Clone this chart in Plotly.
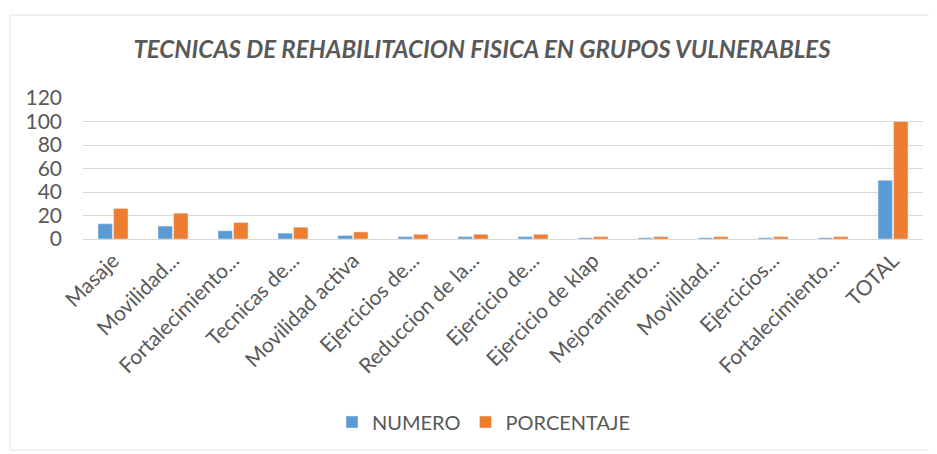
import plotly.graph_objects as go

categories = ["Masaje", "Movilidad...", "Fortalecimiento...", "Tecnicas de...", "Movilidad activa",
              "Ejercicios de...", "Reduccion de la...", "Ejercicio de...", "Ejercicio de klap",
              "Mejoramiento...", "Movilidad...", "Ejercicios...", "Fortalecimiento...", "TOTAL"]
numero = [13, 11, 7, 5, 3, 2, 2, 2, 1, 1, 1, 1, 1, 50]
porcentaje = [26, 22, 14, 10, 6, 4, 4, 4, 2, 2, 2, 2, 2, 100]
y_ticks = [0, 20, 40, 60, 80, 100, 120]

x_idx = list(range(len(categories)))
font = "Lato, Open Sans, sans-serif"
gray = "#595959"

W, H = 929, 446  # page body has an 8px margin

fig = go.Figure()
fig.add_trace(go.Bar(x=x_idx, y=numero, name="NUMERO", marker_color="#5B9BD5"))
fig.add_trace(go.Bar(x=x_idx, y=porcentaje, name="PORCENTAJE", marker_color="#ED7D31"))

fig.update_layout(
    width=W, height=H,
    margin=dict(l=75, r=14, t=90, b=215, autoexpand=False),
    paper_bgcolor="white", plot_bgcolor="white",
    barmode="group", bargap=0.48, bargroupgap=0.08,
    title=dict(text="<b><i>TECNICAS DE REHABILITACION FISICA EN GRUPOS VULNERABLES</i></b>",
               x=(482 - 8) / W, xanchor="center", y=1 - 42 / H, yref="container", yanchor="middle",
               font=dict(family=font, size=24, color=gray)),
    legend=dict(orientation="h", x=(484 - 8) / W, xref="container", xanchor="center",
                y=1 - 414 / H, yref="container", yanchor="middle",
                font=dict(family=font, size=20, color=gray),
                itemwidth=30, traceorder="normal"),
    showlegend=True,
)
fig.update_xaxes(tickmode="array", tickvals=x_idx, ticktext=categories, tickangle=-45,
                 range=[-0.5, len(categories) - 0.5], automargin=False,
                 tickfont=dict(family=font, size=21, color=gray),
                 showline=True, linecolor="#D9D9D9", linewidth=1, ticks="")
fig.update_yaxes(tickmode="array", tickvals=y_ticks, range=[0, 120], automargin=False,
                 tickfont=dict(family=font, size=21, color=gray),
                 showgrid=True, gridcolor="#D9D9D9", gridwidth=1, zeroline=False,
                 ticklabelstandoff=20)
fig.add_shape(type="rect", xref="paper", yref="paper",
              x0=-73 / 840, x1=1 + 10 / 840, y0=-(215 - 4) / 141, y1=1 + 83 / 141,
              line=dict(color="#E3E3E3", width=1), fillcolor="rgba(0,0,0,0)")

fig.write_html("out.html")
